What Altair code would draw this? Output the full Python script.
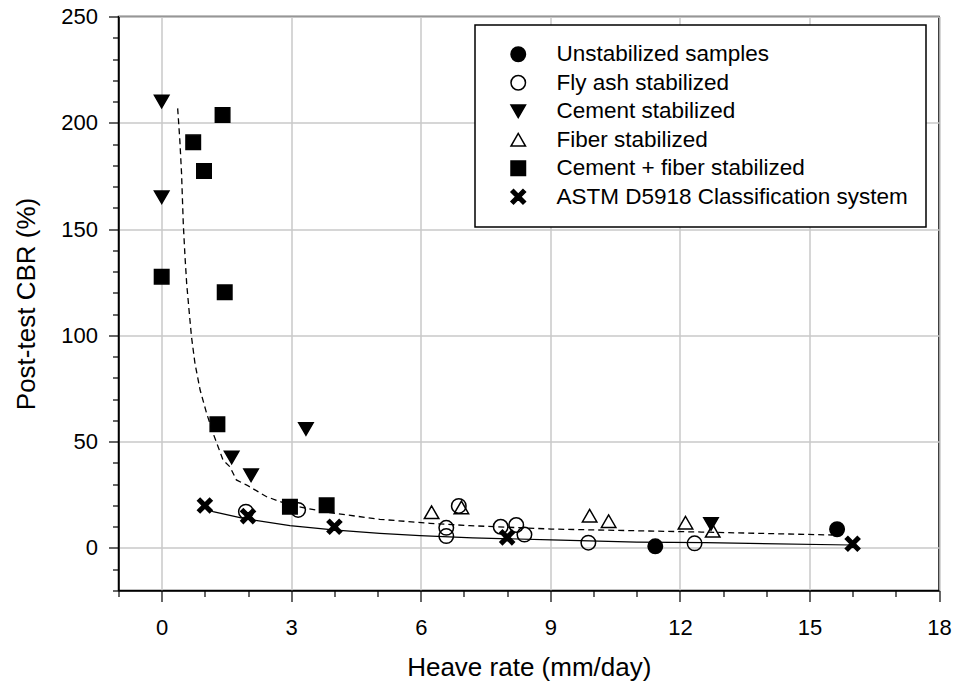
import altair as alt
import pandas as pd

# ---- data ----
series_names = [
    "Unstabilized samples",
    "Fly ash stabilized",
    "Cement stabilized",
    "Fiber stabilized",
    "Cement + fiber stabilized",
    "ASTM D5918 Classification system",
]

unstab_x = [11.43, 15.64]
unstab_y = [0.8, 8.8]

flyash_x = [1.95, 3.16, 6.88, 6.59, 6.59, 7.85, 8.21, 8.40, 9.88, 12.34]
flyash_y = [17.1, 17.9, 19.8, 9.5, 5.6, 10.0, 10.8, 6.3, 2.5, 2.2]

cement_x = [0.0, 0.0, 3.34, 1.62, 2.07, 12.72]
cement_y = [210.0, 165.0, 56.0, 42.6, 34.2, 11.3]

fiber_x = [6.25, 6.94, 9.91, 10.35, 12.13, 12.76]
fiber_y = [16.8, 19.1, 15.2, 12.6, 11.9, 8.1]

cf_x = [1.41, 0.73, 0.98, 0.0, 1.46, 1.29, 2.97, 3.82]
cf_y = [203.7, 190.8, 177.3, 127.6, 120.3, 58.2, 19.4, 20.1]

astm_x = [1, 2, 4, 8, 16]
astm_y = [20, 15, 10, 5, 2]

# trend curves
dash_x = [0.37, 0.42, 0.46, 0.50, 0.54, 0.58, 0.64, 0.69, 0.77, 0.89, 1.04, 1.19,
          1.42, 1.58, 1.73, 1.97, 2.43, 2.97, 3.89, 5.05, 6.21, 7.13, 9.02, 11.0,
          12.5, 15.53]
dash_y = [206.8, 191.9, 176.2, 152.7, 137.0, 124.0, 110.4, 99.4, 86.9, 74.3, 63.4, 54.0,
          41.4, 38.2, 32.0, 29.6, 24.1, 20.2, 16.6, 13.5, 11.6, 10.5, 8.9, 8.1,
          7.5, 6.1]

solid_x = [0.98, 1.19, 1.97, 2.97, 3.97, 5.05, 5.98, 7.2, 9.02, 11.0, 12.6, 15.95]
solid_y = [19.6, 17.1, 13.6, 10.5, 8.5, 6.9, 5.8, 4.8, 3.8, 2.8, 2.5, 1.4]

x_ticks = [0, 3, 6, 9, 12, 15, 18]
y_ticks = [0, 50, 100, 150, 200, 250]
y_minor_ticks = [v for v in range(-20, 251, 10) if v not in y_ticks]

# ---- tables ----
rows = []
for name, xs, ys in [
    (series_names[0], unstab_x, unstab_y),
    (series_names[1], flyash_x, flyash_y),
    (series_names[2], cement_x, cement_y),
    (series_names[3], fiber_x, fiber_y),
    (series_names[4], cf_x, cf_y),
    (series_names[5], astm_x, astm_y),
]:
    for a, b in zip(xs, ys):
        rows.append({"x": a, "y": b, "series": name})
pts = pd.DataFrame(rows)
dash_df = pd.DataFrame({"x": dash_x, "y": dash_y})
solid_df = pd.DataFrame({"x": solid_x, "y": solid_y})

FONT = "Liberation Sans"
X_PATH = ("M-1,-0.65L-0.65,-1L0,-0.35L0.65,-1L1,-0.65L0.35,0L1,0.65L0.65,1"
          "L0,0.35L-0.65,1L-1,0.65L-0.35,0Z")

xscale = alt.Scale(domain=[-1, 18], nice=False, zero=False)
yscale = alt.Scale(domain=[-20, 250], nice=False, zero=False)

x_major = "indexof([" + ",".join(str(v) for v in x_ticks) + "], datum.value) >= 0"

common_axis = dict(
    gridColor="#c8c8c8",
    gridWidth=1.5,
    tickColor="black",
    tickWidth=1.2,
    domainColor="black",
    domainWidth=1.5,
    labelFont=FONT,
    labelColor="black",
    labelOverlap=False,
    labelFlush=False,
    titleFont=FONT,
    titleFontSize=26,
    titleFontWeight="normal",
    titleColor="black",
    format="d",
)

x_axis = alt.Axis(
    values=list(range(-1, 19)),
    labelExpr=x_major + " ? datum.label : ''",
    labelFontSize=22,
    title="Heave rate (mm/day)",
    grid=True,
    gridOpacity={"condition": {"test": x_major, "value": 1}, "value": 0},
    tickSize={"condition": {"test": "datum.value % 3 === 0", "value": 11}, "value": 6},
    labelPadding=16,
    titlePadding=16,
    **common_axis,
)
y_axis = alt.Axis(
    values=y_ticks,
    orient="left",
    labelFontSize=22,
    title="Post-test CBR (%)",
    grid=True,
    tickSize=10,
    labelPadding=11,
    titlePadding=21,
    **common_axis,
)
y_minor_axis = alt.Axis(
    values=y_minor_ticks,
    orient="left",
    labels=False,
    title=None,
    grid=False,
    domain=False,
    tickSize=6,
    tickColor="black",
    tickWidth=1.2,
)

legend_opts = dict(
    title=None,
    orient="none",
    legendX=356.5,
    legendY=8.5,
    strokeColor="black",
    fillColor="white",
    padding=18,
    symbolSize=210,
    symbolStrokeColor="black",
    symbolStrokeWidth=1.5,
    symbolOffset=14,
    labelOffset=27,
    labelFont=FONT,
    labelFontSize=22.5,
    labelColor="black",
    rowPadding=5.5,
    labelLimit=600,
)

points = alt.Chart(pts).mark_point(filled=True, size=210, strokeWidth=1.5, opacity=1).encode(
    x=alt.X("x:Q", scale=xscale, axis=x_axis),
    y=alt.Y("y:Q", scale=yscale, axis=y_axis),
    shape=alt.Shape(
        "series:N",
        scale=alt.Scale(domain=series_names,
                        range=["circle", "circle", "triangle-down", "triangle-up", "square", X_PATH]),
        legend=alt.Legend(**legend_opts),
    ),
    fill=alt.Fill(
        "series:N",
        scale=alt.Scale(domain=series_names,
                        range=["black", "transparent", "black", "transparent", "black", "black"]),
        legend=alt.Legend(**legend_opts),
    ),
    stroke=alt.Stroke(
        "series:N",
        scale=alt.Scale(domain=series_names, range=["black"] * 6),
        legend=alt.Legend(**legend_opts),
    ),
)

dash_line = alt.Chart(dash_df).mark_line(color="black", strokeWidth=1.3, strokeDash=[6, 4]).encode(
    x=alt.X("x:Q", scale=xscale, axis=x_axis),
    y=alt.Y("y:Q", scale=yscale, axis=y_minor_axis),
    order="x:Q",
)
solid_line = alt.Chart(solid_df).mark_line(color="black", strokeWidth=1.2).encode(
    x=alt.X("x:Q", scale=xscale, axis=x_axis),
    y=alt.Y("y:Q", scale=yscale, axis=None),
    order="x:Q",
)

chart = alt.layer(points, dash_line, solid_line).resolve_axis(y="independent").resolve_scale(
    y="shared"
).properties(
    width=820.5,
    height=574,
    autosize=alt.AutoSizeParams(type="none"),
    padding={"left": 118.5, "top": 16.5, "right": 16, "bottom": 99.5},
    background="white",
).configure_view(stroke="black", strokeWidth=1.5).configure_legend(strokeWidth=1.5)

chart.save("out.html", embed_options={"renderer": "svg", "actions": False})
